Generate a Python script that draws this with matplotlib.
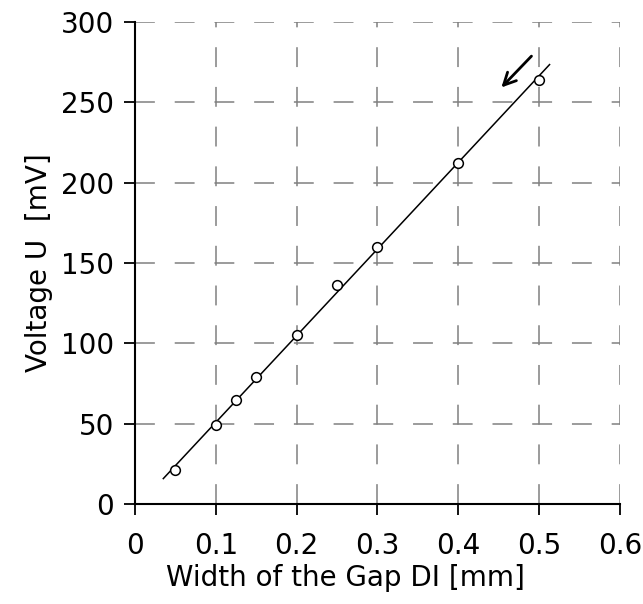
import numpy as np
import matplotlib
matplotlib.use('Agg')
import matplotlib.pyplot as plt

# Datos medidos: ancho de la rendija [mm] y voltaje [mV]
ancho = [0.05, 0.1, 0.125, 0.15, 0.2, 0.25, 0.3, 0.4, 0.5]
voltaje = [21, 49, 65, 79, 105, 136, 160, 212, 264]

# Rango de la recta de ajuste
x_ajuste = [0.035, 0.513]

# Flecha (inicio y fin en coordenadas de datos)
flecha_ini = [0.493, 280]
flecha_fin = [0.451, 258]

x_ticks = [0, 0.1, 0.2, 0.3, 0.4, 0.5, 0.6]
x_labels = ['0', '0.1', '0.2', '0.3', '0.4', '0.5', '0.6']
y_ticks = [0, 50, 100, 150, 200, 250, 300]

plt.rcParams['font.family'] = ['DejaVu Sans']

fig = plt.figure(figsize=(6.43, 6.04), dpi=100)
ax = fig.add_axes([0.21, 0.1656, 0.754, 0.798])

# Recta de ajuste lineal
m, b = np.polyfit(ancho, voltaje, 1)
xs = np.array(x_ajuste)
ax.plot(xs, m * xs + b, color='black', lw=1.1, zorder=3)

# Puntos medidos
ax.plot(ancho, voltaje, 'o', mfc='white', mec='black', ms=7, mew=1.1,
        zorder=4)

ax.annotate('', xy=flecha_fin, xytext=flecha_ini,
            arrowprops=dict(arrowstyle='->', color='black', lw=2,
                            mutation_scale=22))

ax.set_xlim(0, 0.6)
ax.set_ylim(0, 300)
ax.set_xticks(x_ticks)
ax.set_xticklabels(x_labels)
ax.set_yticks(y_ticks)

ax.grid(True, color='#808080', lw=1.1, linestyle=(0, (13, 13)))
ax.set_axisbelow(True)

ax.spines['top'].set_visible(False)
ax.spines['right'].set_visible(False)
ax.spines['left'].set_linewidth(1.5)
ax.spines['bottom'].set_linewidth(1.5)

ax.tick_params(axis='both', direction='out', length=8, width=1.3,
               labelsize=20)
ax.tick_params(axis='x', pad=12)
ax.tick_params(axis='y', pad=7)

ax.set_xlabel('Width of the Gap DI [mm]', fontsize=20)
ax.xaxis.set_label_coords(0.433, -0.125)
ax.set_ylabel('Voltage U  [mV]', fontsize=20, labelpad=6)

fig.savefig('out.png', dpi=100)
